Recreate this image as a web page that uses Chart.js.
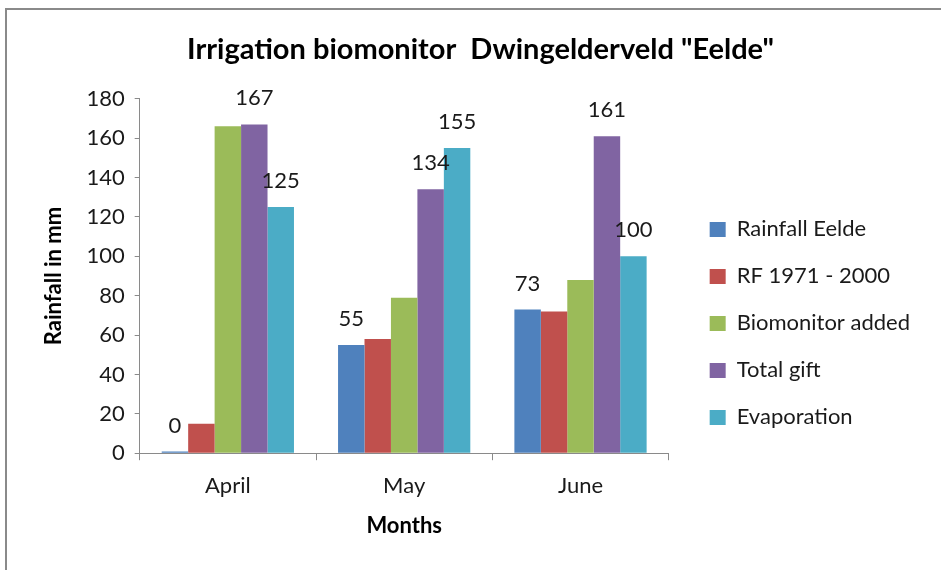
<!DOCTYPE html>
<html>
<head>
<meta charset="utf-8">
<script src="https://cdn.jsdelivr.net/npm/chart.js@4/dist/chart.umd.min.js"></script>
<style>
  html, body { margin: 0; padding: 0; background: #fff; }
  #frame { position: absolute; left: 5px; top: 8px; width: 980px; height: 620px; border: 2px solid #8a8a8a; }
  #wrap { position: absolute; left: 0; top: 0; width: 941px; height: 570px; }
</style>
</head>
<body>
<div id="frame"></div>
<div id="wrap"><canvas id="rainChart" width="941" height="570"></canvas></div>
<script>
// categorias y series
const months = ["April", "May", "June"];
const rainfallEelde = [0.8, 55, 73];
const rf19712000 = [15, 58, 72];
const biomonitorAdded = [166, 79, 88];
const totalGift = [167, 134, 161];
const evaporation = [125, 155, 100];
const yTicks = [0, 20, 40, 60, 80, 100, 120, 140, 160, 180];
const labelValues = [[0, 55, 73], null, null, [167, 134, 161], [125, 155, 100]];

const fontFamily = "Lato, 'Open Sans', sans-serif";

// etiquetas de valores encima de las barras
const valueLabels = {
    id: "valueLabels",
    afterDatasetsDraw(chart) {
        const ctx = chart.ctx;
        ctx.save();
        ctx.font = "22px " + fontFamily;
        ctx.fillStyle = "#1a1a1a";
        ctx.textAlign = "center";
        ctx.textBaseline = "middle";
        chart.data.datasets.forEach((ds, i) => {
            const vals = labelValues[i];
            if (!vals) return;
            chart.getDatasetMeta(i).data.forEach((bar, j) => {
                ctx.fillText(String(vals[j]), bar.x, bar.y - 26);
            });
        });
        ctx.restore();
    }
};

const ctx = document.getElementById("rainChart").getContext("2d");
new Chart(ctx, {
    type: "bar",
    data: {
        labels: months,
        datasets: [
            { label: "Rainfall Eelde", data: rainfallEelde, backgroundColor: "#4f81bd" },
            { label: "RF 1971 - 2000", data: rf19712000, backgroundColor: "#c0504d" },
            { label: "Biomonitor added", data: biomonitorAdded, backgroundColor: "#9bbb59" },
            { label: "Total gift", data: totalGift, backgroundColor: "#8064a2" },
            { label: "Evaporation", data: evaporation, backgroundColor: "#4bacc6" }
        ]
    },
    options: {
        responsive: false,
        animation: false,
        layout: { padding: { left: 41, right: 21, top: 10, bottom: 27 } },
        datasets: { bar: { categoryPercentage: 0.75, barPercentage: 1.0 } },
        plugins: {
            title: {
                display: true,
                text: 'Irrigation biomonitor  Dwingelderveld "Eelde"',
                color: "#000",
                font: { family: fontFamily, size: 29, weight: "bold" },
                padding: { top: 22, bottom: 32 }
            },
            legend: {
                position: "right",
                align: "start",
                maxWidth: 400,
                title: { display: true, text: " ", font: { size: 12 }, padding: { top: 169, bottom: 0 } },
                labels: {
                    color: "#1a1a1a",
                    font: { family: fontFamily, size: 22 },
                    boxWidth: 16,
                    boxHeight: 15,
                    padding: 25
                }
            },
            tooltip: { enabled: false }
        },
        scales: {
            x: {
                grid: { display: true, drawOnChartArea: false, drawTicks: true, tickLength: 7, color: "#8a8a8a", offset: true },
                border: { color: "#8a8a8a" },
                ticks: { color: "#1a1a1a", font: { family: fontFamily, size: 22 }, padding: 13 },
                title: { display: true, text: "Months", color: "#000", font: { family: fontFamily, size: 22, weight: "bold" }, padding: { top: 0, bottom: 4 } }
            },
            y: {
                min: 0,
                max: 180,
                afterBuildTicks(axis) { axis.ticks = yTicks.map(v => ({ value: v })); },
                grid: { display: true, drawOnChartArea: false, drawTicks: true, tickLength: 5, color: "#8a8a8a" },
                border: { color: "#8a8a8a" },
                ticks: { color: "#1a1a1a", font: { family: fontFamily, size: 22 }, padding: 10 },
                title: { display: true, text: "Rainfall in mm", color: "#000", font: { family: fontFamily, size: 22, weight: "bold" }, padding: { top: 0, bottom: 9 } }
            },
            // eje vacio para separar la leyenda del area del grafico
            gap: {
                type: "linear",
                position: "right",
                grid: { display: false },
                border: { display: false },
                ticks: { display: false },
                afterFit(axis) { axis.width = 16; }
            }
        }
    },
    plugins: [valueLabels]
});
</script>
</body>
</html>
